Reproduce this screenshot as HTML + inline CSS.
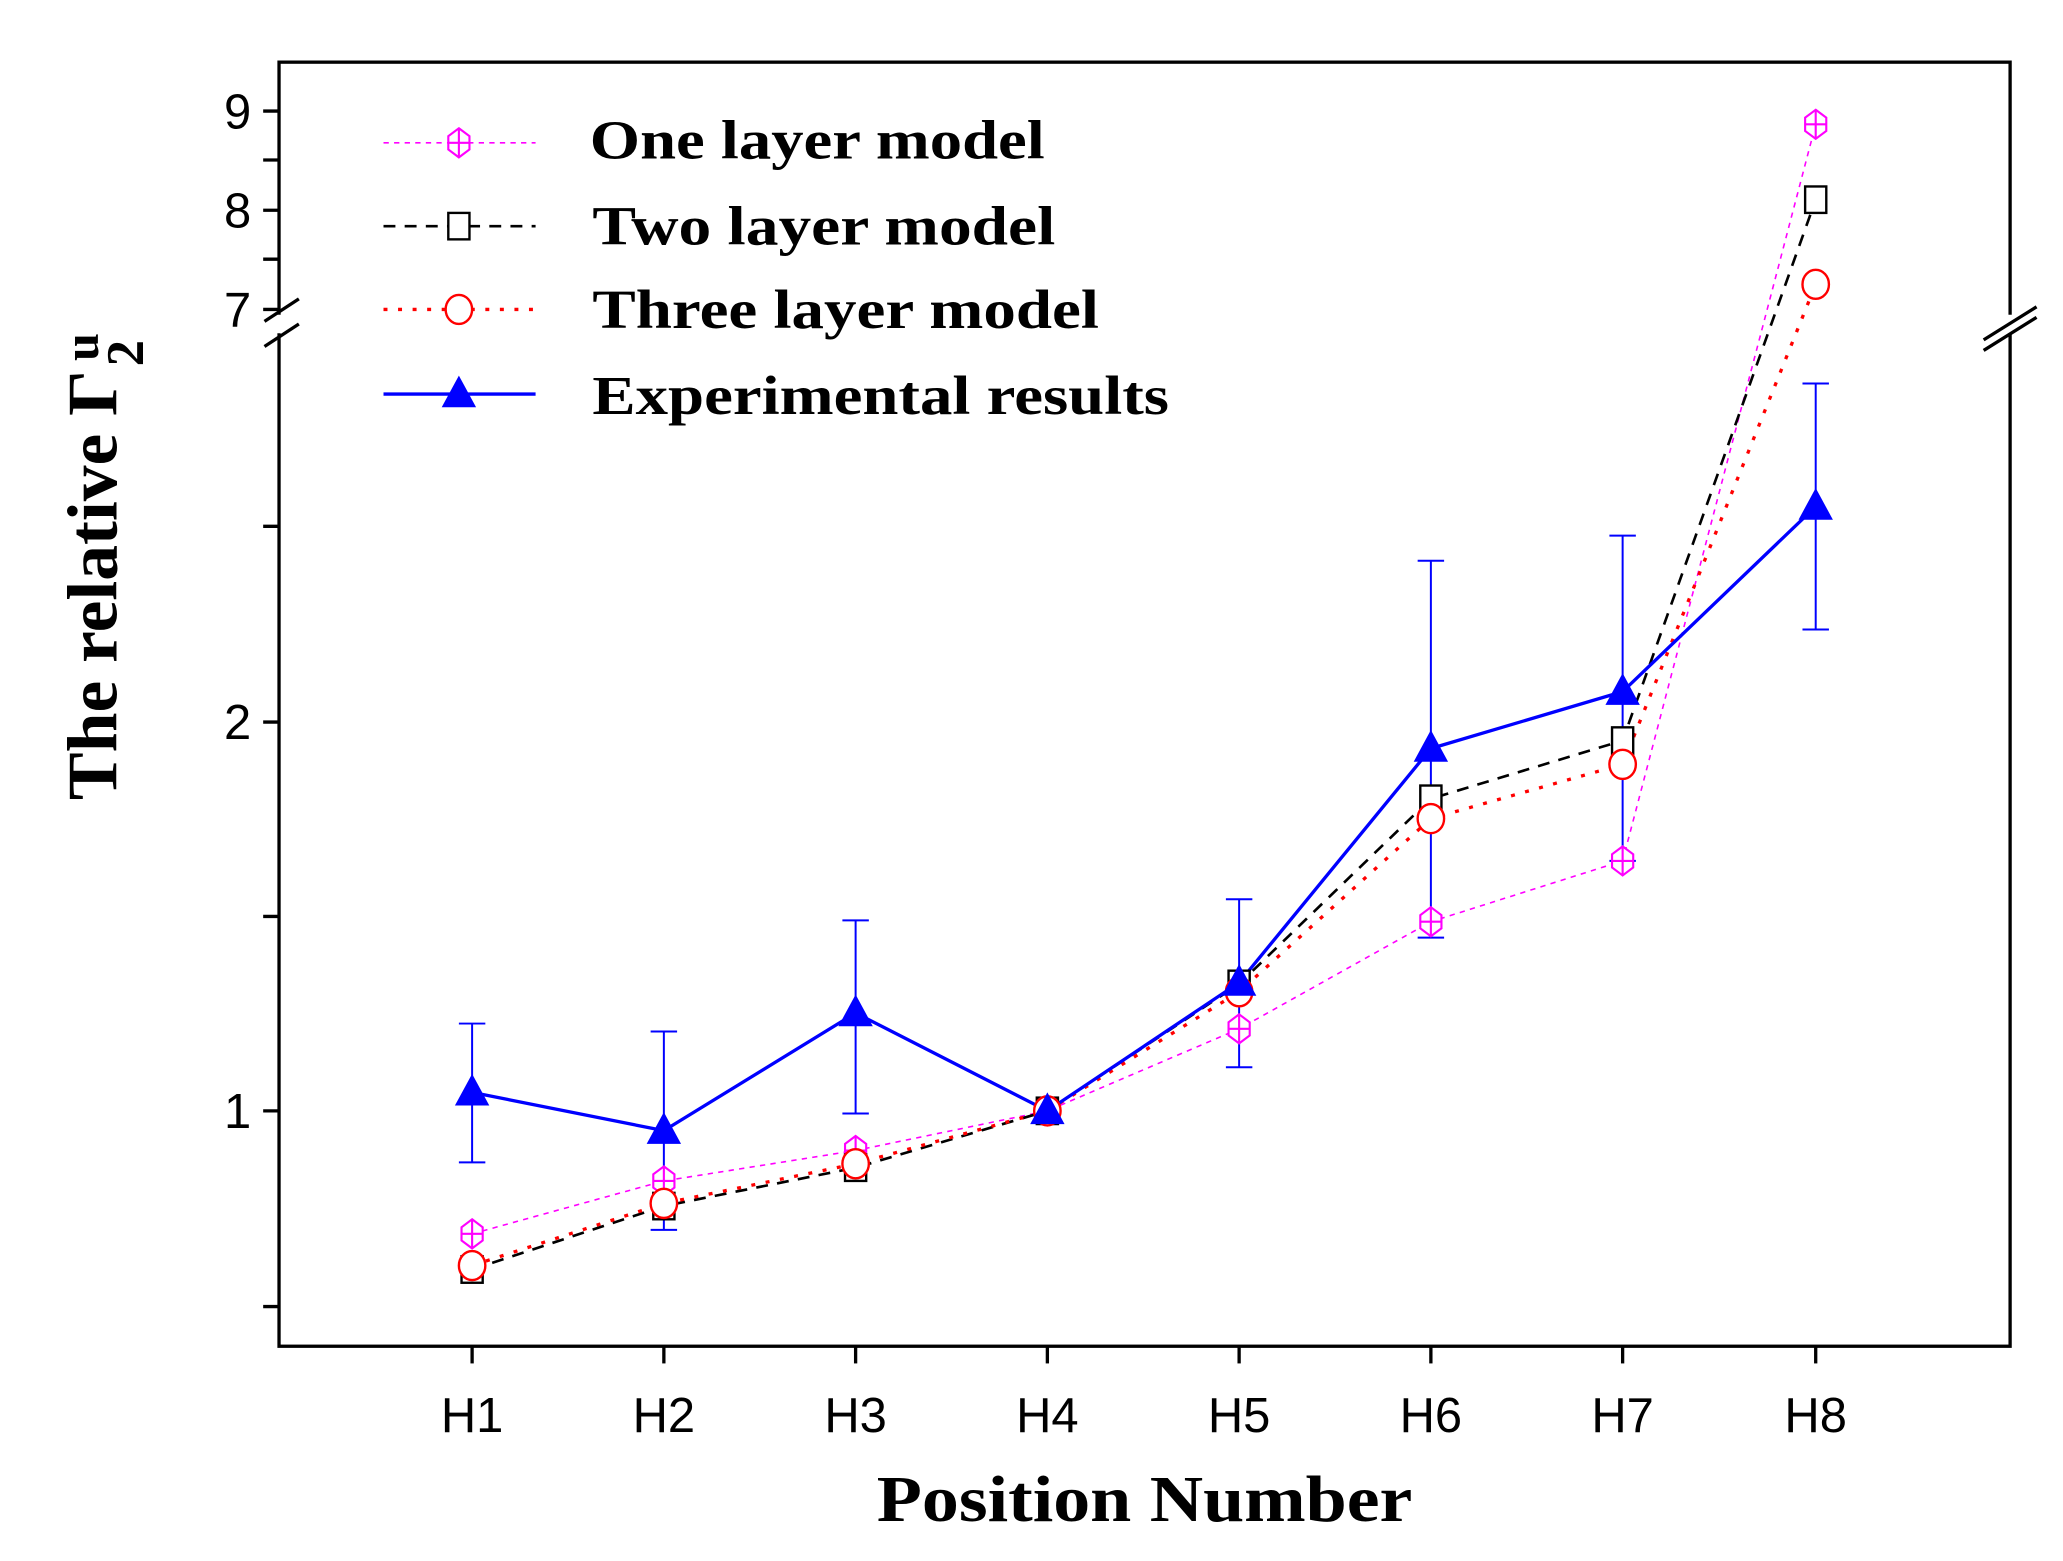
<!DOCTYPE html>
<html><head><meta charset="utf-8"><style>html,body{margin:0;padding:0;background:#fff}svg{display:block}</style></head><body>
<svg width="2063" height="1561" viewBox="0 0 1560 1180.4" preserveAspectRatio="none" xmlns="http://www.w3.org/2000/svg">
<defs>
<g id="hex"><polygon points="0,-11 8,-5 8,5 0,11 -8,5 -8,-5" fill="#fff" stroke="#f0f" stroke-width="1.6"/><line x1="-8" y1="0" x2="8" y2="0" stroke="#f0f" stroke-width="1.6"/><line x1="0" y1="-11" x2="0" y2="11" stroke="#f0f" stroke-width="1.6"/></g>
<g id="sq"><rect x="-8" y="-10" width="16" height="20" fill="#fff" stroke="#000" stroke-width="1.8"/></g>
<g id="circ"><ellipse cx="0" cy="0" rx="10" ry="11" fill="#fff" stroke="#f00" stroke-width="1.8"/></g>
<g id="tri"><polygon points="0,-14 13,10 -13,10" fill="#00f"/></g>
</defs>
<g font-family="Liberation Sans, sans-serif" font-size="37" fill="#000">
<rect x="211" y="47" width="1309" height="971" fill="none" stroke="#000" stroke-width="2.5"/>
<rect x="200" y="238" width="22" height="14" fill="#fff"/>
<rect x="1509" y="238" width="22" height="14" fill="#fff"/>
<g stroke="#000" stroke-width="2.5">
<line x1="200" y1="243" x2="226" y2="226"/><line x1="200" y1="262" x2="226" y2="245"/>
<line x1="1500" y1="257" x2="1540" y2="232"/><line x1="1500" y1="265" x2="1540" y2="240"/>
<line x1="199" y1="84" x2="211" y2="84"/><line x1="199" y1="121" x2="211" y2="121"/><line x1="199" y1="159" x2="211" y2="159"/><line x1="199" y1="196" x2="211" y2="196"/><line x1="199" y1="234" x2="211" y2="234"/>
<line x1="199" y1="398" x2="211" y2="398"/><line x1="199" y1="546" x2="211" y2="546"/><line x1="199" y1="693" x2="211" y2="693"/><line x1="199" y1="840" x2="211" y2="840"/><line x1="199" y1="988" x2="211" y2="988"/>
<line x1="357" y1="1018" x2="357" y2="1031"/><line x1="502" y1="1018" x2="502" y2="1031"/><line x1="647" y1="1018" x2="647" y2="1031"/><line x1="792" y1="1018" x2="792" y2="1031"/><line x1="937" y1="1018" x2="937" y2="1031"/><line x1="1082" y1="1018" x2="1082" y2="1031"/><line x1="1227" y1="1018" x2="1227" y2="1031"/><line x1="1373" y1="1018" x2="1373" y2="1031"/>
</g>
<g text-anchor="end">
<text x="190" y="97">9</text><text x="190" y="172">8</text><text x="190" y="247">7</text><text x="190" y="559">2</text><text x="190" y="853">1</text>
</g>
<g text-anchor="middle">
<text x="357" y="1083">H1</text><text x="502" y="1083">H2</text><text x="647" y="1083">H3</text><text x="792" y="1083">H4</text><text x="937" y="1083">H5</text><text x="1082" y="1083">H6</text><text x="1227" y="1083">H7</text><text x="1373" y="1083">H8</text>
</g>
</g>
<g font-family="Liberation Serif, serif" font-weight="bold" fill="#000">
<text x="663" y="1150" font-size="50" textLength="405" lengthAdjust="spacingAndGlyphs">Position Number</text>
<g transform="translate(88,605) rotate(-90)">
<text x="0" y="0" font-size="54" textLength="325" lengthAdjust="spacingAndGlyphs">The relative Γ</text>
<text x="328" y="20" font-size="40">2</text>
<text x="332" y="-14" font-size="38">u</text>
</g>
<g font-size="42">
<text x="446" y="120" textLength="344" lengthAdjust="spacingAndGlyphs">One layer model</text>
<text x="448" y="185" textLength="350" lengthAdjust="spacingAndGlyphs">Two layer model</text>
<text x="448" y="248" textLength="383" lengthAdjust="spacingAndGlyphs">Three layer model</text>
<text x="448" y="313" textLength="436" lengthAdjust="spacingAndGlyphs">Experimental results</text>
</g>
</g>
<line x1="290" y1="108" x2="405" y2="108" stroke="#f0f" stroke-width="1.2" stroke-dasharray="4,4"/><use href="#hex" x="347" y="108"/>
<line x1="290" y1="171" x2="405" y2="171" stroke="#000" stroke-width="2" stroke-dasharray="9,7"/><use href="#sq" x="347" y="171"/>
<line x1="290" y1="234" x2="405" y2="234" stroke="#f00" stroke-width="2.5" stroke-dasharray="3,8"/><use href="#circ" x="347" y="234"/>
<line x1="290" y1="298" x2="405" y2="298" stroke="#00f" stroke-width="2.5"/><use href="#tri" x="347" y="298"/>
<g stroke="#00f" stroke-width="1.5">
<line x1="357" y1="774" x2="357" y2="879"/><line x1="347" y1="774" x2="367" y2="774"/><line x1="347" y1="879" x2="367" y2="879"/>
<line x1="502" y1="780" x2="502" y2="930"/><line x1="492" y1="780" x2="512" y2="780"/><line x1="492" y1="930" x2="512" y2="930"/>
<line x1="647" y1="696" x2="647" y2="842"/><line x1="637" y1="696" x2="657" y2="696"/><line x1="637" y1="842" x2="657" y2="842"/>
<line x1="937" y1="680" x2="937" y2="807"/><line x1="927" y1="680" x2="947" y2="680"/><line x1="927" y1="807" x2="947" y2="807"/>
<line x1="1082" y1="424" x2="1082" y2="709"/><line x1="1072" y1="424" x2="1092" y2="424"/><line x1="1072" y1="709" x2="1092" y2="709"/>
<line x1="1227" y1="405" x2="1227" y2="651"/><line x1="1217" y1="405" x2="1237" y2="405"/><line x1="1217" y1="651" x2="1237" y2="651"/>
<line x1="1373" y1="290" x2="1373" y2="476"/><line x1="1363" y1="290" x2="1383" y2="290"/><line x1="1363" y1="476" x2="1383" y2="476"/>
</g>
<polyline fill="none" stroke="#f0f" stroke-width="1.2" stroke-dasharray="4,4" points="357,933 502,893 647,870 792,840 937,778 1082,697 1227,651 1373,94"/>
<polyline fill="none" stroke="#000" stroke-width="2" stroke-dasharray="9,7" points="357,960 502,912 647,883 792,840 937,744 1082,604 1227,560 1373,151"/>
<polyline fill="none" stroke="#f00" stroke-width="2.5" stroke-dasharray="3,8" points="357,957 502,910 647,880 792,840 937,750 1082,619 1227,578 1373,215"/>
<polyline fill="none" stroke="#00f" stroke-width="2.5" points="357,826 502,855 647,766 792,840 937,743 1082,566 1227,523 1373,383"/>
<g>
<use href="#hex" x="357" y="933"/><use href="#hex" x="502" y="893"/><use href="#hex" x="647" y="870"/><use href="#hex" x="792" y="840"/><use href="#hex" x="937" y="778"/><use href="#hex" x="1082" y="697"/><use href="#hex" x="1227" y="651"/><use href="#hex" x="1373" y="94"/>
<use href="#sq" x="357" y="960"/><use href="#sq" x="502" y="912"/><use href="#sq" x="647" y="883"/><use href="#sq" x="792" y="840"/><use href="#sq" x="937" y="744"/><use href="#sq" x="1082" y="604"/><use href="#sq" x="1227" y="560"/><use href="#sq" x="1373" y="151"/>
<use href="#circ" x="357" y="957"/><use href="#circ" x="502" y="910"/><use href="#circ" x="647" y="880"/><use href="#circ" x="792" y="840"/><use href="#circ" x="937" y="750"/><use href="#circ" x="1082" y="619"/><use href="#circ" x="1227" y="578"/><use href="#circ" x="1373" y="215"/>
<use href="#tri" x="357" y="826"/><use href="#tri" x="502" y="855"/><use href="#tri" x="647" y="766"/><use href="#tri" x="792" y="840"/><use href="#tri" x="937" y="743"/><use href="#tri" x="1082" y="566"/><use href="#tri" x="1227" y="523"/><use href="#tri" x="1373" y="383"/>
</g>
</svg>
</body></html>
